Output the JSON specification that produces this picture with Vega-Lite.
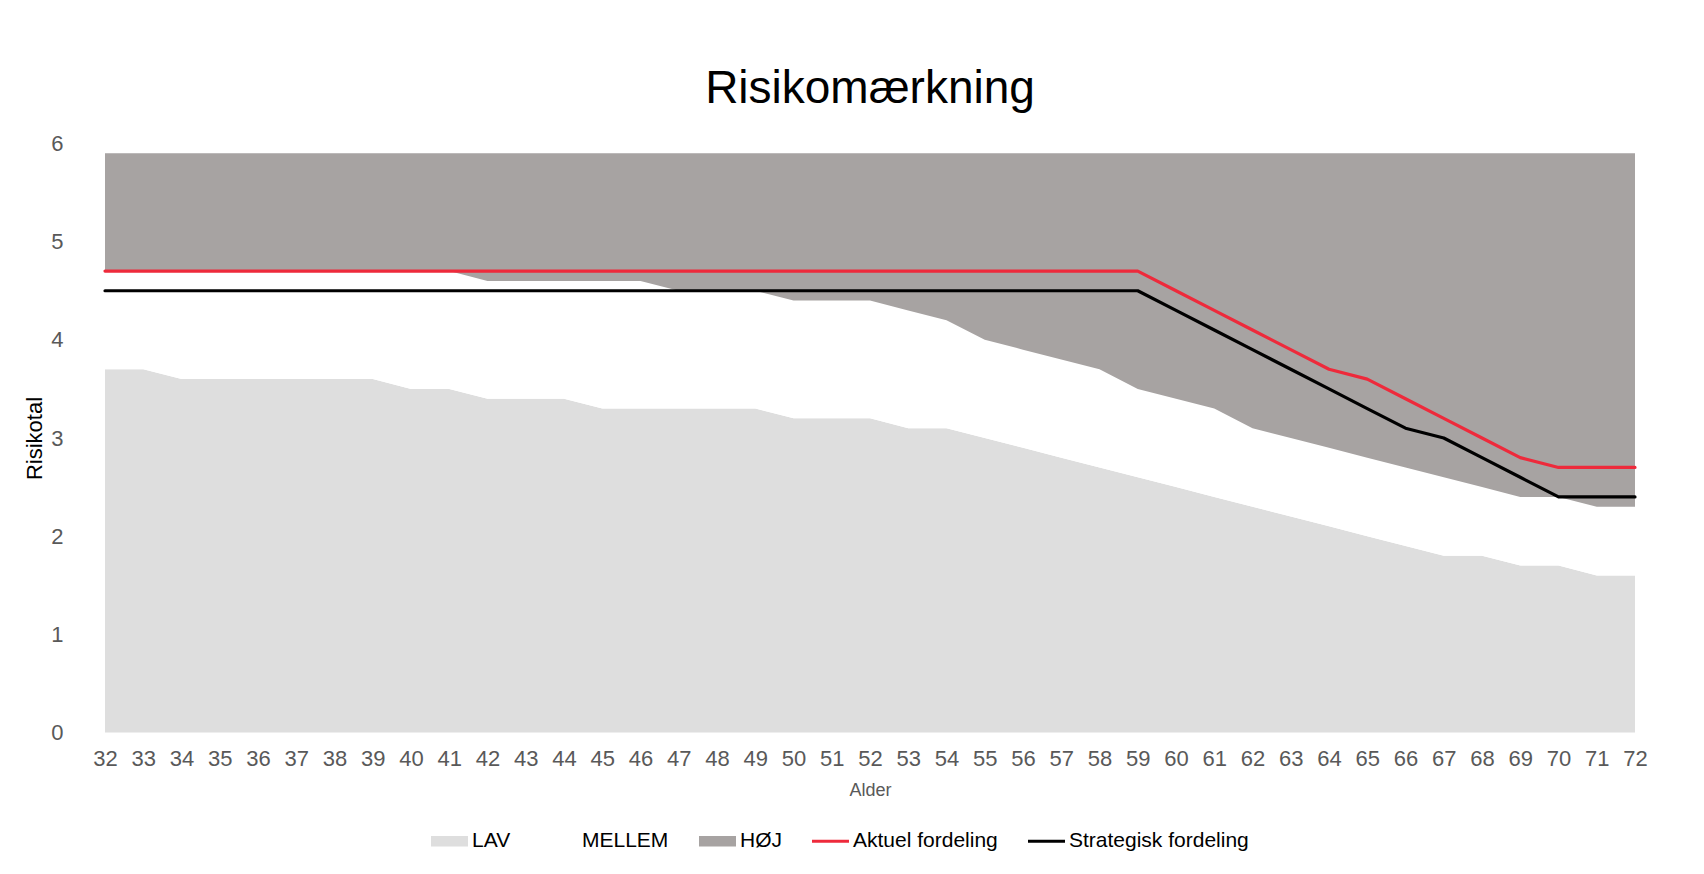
{
  "$schema": "https://vega.github.io/schema/vega-lite/v6.json",
  "width": 1530,
  "height": 589,
  "autosize": {"type": "none"},
  "padding": {"left": 105, "top": 143.5, "right": 69, "bottom": 141.5},
  "background": "white",
  "config": {
    "view": {"stroke": null},
    "font": "Liberation Sans"
  },
  "title": {
    "text": "Risikomærkning",
    "fontSize": 46,
    "font": "Liberation Sans",
    "fontWeight": "normal",
    "color": "#000000",
    "anchor": "middle",
    "offset": 20
  },
  "data": {
    "values": [
      {"alder": 32, "lav": 3.7, "mellem": 4.7, "hoj": 5.9, "aktuel": 4.7, "strategisk": 4.5},
      {"alder": 33, "lav": 3.7, "mellem": 4.7, "hoj": 5.9, "aktuel": 4.7, "strategisk": 4.5},
      {"alder": 34, "lav": 3.6, "mellem": 4.7, "hoj": 5.9, "aktuel": 4.7, "strategisk": 4.5},
      {"alder": 35, "lav": 3.6, "mellem": 4.7, "hoj": 5.9, "aktuel": 4.7, "strategisk": 4.5},
      {"alder": 36, "lav": 3.6, "mellem": 4.7, "hoj": 5.9, "aktuel": 4.7, "strategisk": 4.5},
      {"alder": 37, "lav": 3.6, "mellem": 4.7, "hoj": 5.9, "aktuel": 4.7, "strategisk": 4.5},
      {"alder": 38, "lav": 3.6, "mellem": 4.7, "hoj": 5.9, "aktuel": 4.7, "strategisk": 4.5},
      {"alder": 39, "lav": 3.6, "mellem": 4.7, "hoj": 5.9, "aktuel": 4.7, "strategisk": 4.5},
      {"alder": 40, "lav": 3.5, "mellem": 4.7, "hoj": 5.9, "aktuel": 4.7, "strategisk": 4.5},
      {"alder": 41, "lav": 3.5, "mellem": 4.7, "hoj": 5.9, "aktuel": 4.7, "strategisk": 4.5},
      {"alder": 42, "lav": 3.4, "mellem": 4.6, "hoj": 5.9, "aktuel": 4.7, "strategisk": 4.5},
      {"alder": 43, "lav": 3.4, "mellem": 4.6, "hoj": 5.9, "aktuel": 4.7, "strategisk": 4.5},
      {"alder": 44, "lav": 3.4, "mellem": 4.6, "hoj": 5.9, "aktuel": 4.7, "strategisk": 4.5},
      {"alder": 45, "lav": 3.3, "mellem": 4.6, "hoj": 5.9, "aktuel": 4.7, "strategisk": 4.5},
      {"alder": 46, "lav": 3.3, "mellem": 4.6, "hoj": 5.9, "aktuel": 4.7, "strategisk": 4.5},
      {"alder": 47, "lav": 3.3, "mellem": 4.5, "hoj": 5.9, "aktuel": 4.7, "strategisk": 4.5},
      {"alder": 48, "lav": 3.3, "mellem": 4.5, "hoj": 5.9, "aktuel": 4.7, "strategisk": 4.5},
      {"alder": 49, "lav": 3.3, "mellem": 4.5, "hoj": 5.9, "aktuel": 4.7, "strategisk": 4.5},
      {"alder": 50, "lav": 3.2, "mellem": 4.4, "hoj": 5.9, "aktuel": 4.7, "strategisk": 4.5},
      {"alder": 51, "lav": 3.2, "mellem": 4.4, "hoj": 5.9, "aktuel": 4.7, "strategisk": 4.5},
      {"alder": 52, "lav": 3.2, "mellem": 4.4, "hoj": 5.9, "aktuel": 4.7, "strategisk": 4.5},
      {"alder": 53, "lav": 3.1, "mellem": 4.3, "hoj": 5.9, "aktuel": 4.7, "strategisk": 4.5},
      {"alder": 54, "lav": 3.1, "mellem": 4.2, "hoj": 5.9, "aktuel": 4.7, "strategisk": 4.5},
      {"alder": 55, "lav": 3.0, "mellem": 4.0, "hoj": 5.9, "aktuel": 4.7, "strategisk": 4.5},
      {"alder": 56, "lav": 2.9, "mellem": 3.9, "hoj": 5.9, "aktuel": 4.7, "strategisk": 4.5},
      {"alder": 57, "lav": 2.8, "mellem": 3.8, "hoj": 5.9, "aktuel": 4.7, "strategisk": 4.5},
      {"alder": 58, "lav": 2.7, "mellem": 3.7, "hoj": 5.9, "aktuel": 4.7, "strategisk": 4.5},
      {"alder": 59, "lav": 2.6, "mellem": 3.5, "hoj": 5.9, "aktuel": 4.7, "strategisk": 4.5},
      {"alder": 60, "lav": 2.5, "mellem": 3.4, "hoj": 5.9, "aktuel": 4.5, "strategisk": 4.3},
      {"alder": 61, "lav": 2.4, "mellem": 3.3, "hoj": 5.9, "aktuel": 4.3, "strategisk": 4.1},
      {"alder": 62, "lav": 2.3, "mellem": 3.1, "hoj": 5.9, "aktuel": 4.1, "strategisk": 3.9},
      {"alder": 63, "lav": 2.2, "mellem": 3.0, "hoj": 5.9, "aktuel": 3.9, "strategisk": 3.7},
      {"alder": 64, "lav": 2.1, "mellem": 2.9, "hoj": 5.9, "aktuel": 3.7, "strategisk": 3.5},
      {"alder": 65, "lav": 2.0, "mellem": 2.8, "hoj": 5.9, "aktuel": 3.6, "strategisk": 3.3},
      {"alder": 66, "lav": 1.9, "mellem": 2.7, "hoj": 5.9, "aktuel": 3.4, "strategisk": 3.1},
      {"alder": 67, "lav": 1.8, "mellem": 2.6, "hoj": 5.9, "aktuel": 3.2, "strategisk": 3.0},
      {"alder": 68, "lav": 1.8, "mellem": 2.5, "hoj": 5.9, "aktuel": 3.0, "strategisk": 2.8},
      {"alder": 69, "lav": 1.7, "mellem": 2.4, "hoj": 5.9, "aktuel": 2.8, "strategisk": 2.6},
      {"alder": 70, "lav": 1.7, "mellem": 2.4, "hoj": 5.9, "aktuel": 2.7, "strategisk": 2.4},
      {"alder": 71, "lav": 1.6, "mellem": 2.3, "hoj": 5.9, "aktuel": 2.7, "strategisk": 2.4},
      {"alder": 72, "lav": 1.6, "mellem": 2.3, "hoj": 5.9, "aktuel": 2.7, "strategisk": 2.4}
    ]
  },
  "encoding": {
    "x": {
      "field": "alder",
      "type": "quantitative",
      "scale": {"domain": [32, 72], "nice": false, "zero": false},
      "axis": {
        "title": "Alder",
        "values": [32,33,34,35,36,37,38,39,40,41,42,43,44,45,46,47,48,49,50,51,52,53,54,55,56,57,58,59,60,61,62,63,64,65,66,67,68,69,70,71,72],
        "format": "d",
        "grid": false,
        "domain": false,
        "ticks": false,
        "labelFontSize": 22,
        "labelColor": "#595959",
        "labelFont": "Liberation Sans",
        "labelPadding": 16,
        "labelFlush": false,
        "labelOverlap": false,
        "titleFontSize": 18,
        "titleFontWeight": "normal",
        "titleColor": "#595959",
        "titleFont": "Liberation Sans",
        "titlePadding": 12
      }
    }
  },
  "layer": [
    {
      "mark": {"type": "area", "interpolate": "linear"},
      "encoding": {
        "y": {
          "field": "lav",
          "type": "quantitative",
          "title": "Risikotal",
          "scale": {"domain": [0, 6], "nice": false},
          "axis": {
            "title": "Risikotal",
            "values": [0, 1, 2, 3, 4, 5, 6],
            "format": "d",
            "grid": false,
            "domain": false,
            "ticks": false,
            "labelFontSize": 22,
            "labelColor": "#595959",
            "labelFont": "Liberation Sans",
            "labelPadding": 42,
            "labelFlush": false,
            "titleFontSize": 22,
            "titleFontWeight": "normal",
            "titleColor": "#000000",
            "titleFont": "Liberation Sans",
            "titlePadding": 4
          }
        },
        "color": {
          "datum": "LAV",
          "type": "nominal",
          "scale": {
            "domain": ["LAV", "MELLEM", "HØJ", "Aktuel fordeling", "Strategisk fordeling"],
            "range": ["#DEDEDE", "#FFFFFF", "#A7A3A2", "#EE2A3B", "#000000"]
          },
          "legend": {
            "title": null,
            "orient": "none",
            "direction": "horizontal",
            "legendX": 326,
            "legendY": 679,
            "symbolSize": 1369,
            "symbolStrokeWidth": 0,
            "symbolOpacity": 1,
            "labelFontSize": 21,
            "labelColor": "#000000",
            "labelFont": "Liberation Sans",
            "labelOffset": 4,
            "columnPadding": 30,
            "labelLimit": 400,
            "encode": {
              "symbols": {
                "update": {
                  "shape": {"signal": "indexof(['Aktuel fordeling','Strategisk fordeling'], datum.value) >= 0 ? 'M-1,-0.08H1V0.08H-1Z' : 'M-1,-0.28H1V0.28H-1Z'"},
                  "fill": {"signal": "scale('color', datum.value)"},
                  "stroke": {"value": null},
                  "strokeWidth": {"value": 0},
                  "opacity": {"value": 1}
                }
              }
            }
          }
        }
      }
    },
    {
      "mark": {"type": "area", "interpolate": "linear"},
      "encoding": {
        "y": {"field": "mellem", "type": "quantitative", "title": "Risikotal"},
        "y2": {"field": "lav"},
        "color": {"datum": "MELLEM", "type": "nominal"}
      }
    },
    {
      "mark": {"type": "area", "interpolate": "linear"},
      "encoding": {
        "y": {"field": "hoj", "type": "quantitative", "title": "Risikotal"},
        "y2": {"field": "mellem"},
        "color": {"datum": "HØJ", "type": "nominal"}
      }
    },
    {
      "mark": {"type": "line", "strokeWidth": 3.2, "strokeCap": "round", "strokeJoin": "round"},
      "encoding": {
        "y": {"field": "aktuel", "type": "quantitative", "title": "Risikotal"},
        "color": {"datum": "Aktuel fordeling", "type": "nominal"}
      }
    },
    {
      "mark": {"type": "line", "strokeWidth": 3.2, "strokeCap": "round", "strokeJoin": "round"},
      "encoding": {
        "y": {"field": "strategisk", "type": "quantitative", "title": "Risikotal"},
        "color": {"datum": "Strategisk fordeling", "type": "nominal"}
      }
    }
  ]
}
